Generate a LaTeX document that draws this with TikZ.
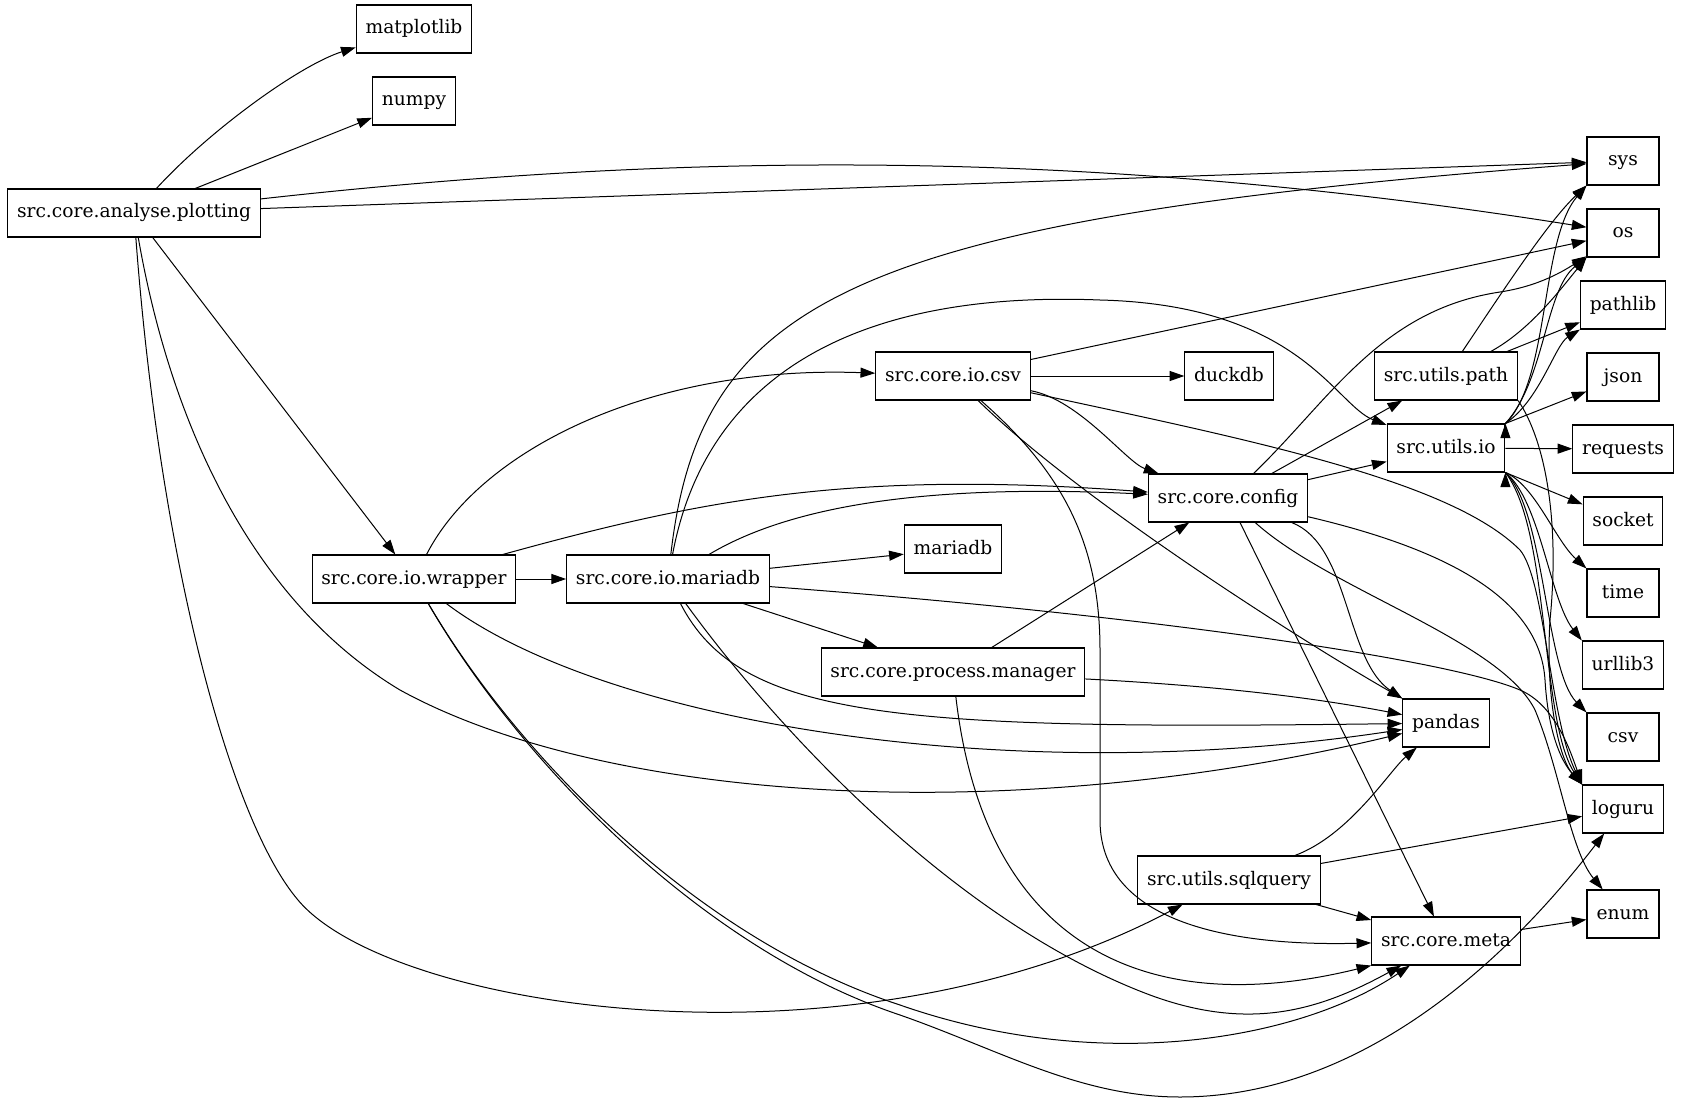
\documentclass[tikz,border=0pt]{standalone}
\usepackage{fontspec}
\setmainfont{DejaVu Serif}
\usetikzlibrary{arrows.meta}

\tikzset{
  mod/.style={draw, rectangle, line width=0.8pt, minimum width=54pt, minimum height=36pt,
    inner xsep=7pt, text height=10.5pt, text depth=3pt, font=\fontsize{14}{17}\selectfont},
  dep/.style={draw, line width=0.75pt, -{Triangle[length=11pt,width=7.5pt]}},
}

\begin{document}
\begin{tikzpicture}[x=0.75pt,y=-0.75pt]
    \fill[white] (0,0) rectangle (1681,1102);
    \useasboundingbox (0,0) rectangle (1681,1102);

    \node[mod] (plotting) at (134,213) {src.core.analyse.plotting};
    \node[mod] (matplotlib) at (414,29) {matplotlib};
    \node[mod] (numpy) at (414,101) {numpy};
    \node[mod] (wrapper) at (414,579) {src.core.io.wrapper};
    \node[mod] (iomariadb) at (668,579) {src.core.io.mariadb};
    \node[mod] (iocsv) at (953,376) {src.core.io.csv};
    \node[mod] (mariadb) at (953,549) {mariadb};
    \node[mod] (procman) at (953,672) {src.core.process.manager};
    \node[mod] (config) at (1228,498) {src.core.config};
    \node[mod] (duckdb) at (1229,376) {duckdb};
    \node[mod] (sqlquery) at (1229,880) {src.utils.sqlquery};
    \node[mod] (utilspath) at (1446,376) {src.utils.path};
    \node[mod] (utilsio) at (1446,448) {src.utils.io};
    \node[mod] (pandas) at (1446,723) {pandas};
    \node[mod] (meta) at (1446,941) {src.core.meta};
    \node[mod] (sys) at (1623,161) {sys};
    \node[mod] (os) at (1623,233) {os};
    \node[mod] (pathlib) at (1623,305) {pathlib};
    \node[mod] (json) at (1623,377) {json};
    \node[mod] (requests) at (1623,449) {requests};
    \node[mod] (socket) at (1623,521) {socket};
    \node[mod] (time) at (1623,593) {time};
    \node[mod] (urllib3) at (1623,665) {urllib3};
    \node[mod] (csvmod) at (1623,737) {csv};
    \node[mod] (loguru) at (1623,809) {loguru};
    \node[mod] (enum) at (1623,914) {enum};

    % plotting
    \path [dep] (plotting) .. controls (210,130) and (300,65) .. (matplotlib);
    \path [dep] (plotting) edge (numpy);
    \path [dep] (plotting) edge (sys);
    \path [dep] (plotting) .. controls (700,150) and (1100,150) .. (os);
    \path [dep] (plotting) edge (wrapper);
    \path [dep] (plotting) .. controls (170,420) and (250,600) .. (400,690) .. controls (600,800) and (1000,830) .. (pandas);
    \path [dep] (plotting) .. controls (160,560) and (230,820) .. (298,900) .. controls (390,1010) and (850,1080) .. (sqlquery);

    % wrapper
    \path [dep] (wrapper) edge (iomariadb);
    \path [dep] (wrapper) .. controls (480,450) and (650,365) .. (iocsv);
    \path [dep] (wrapper) .. controls (700,500) and (850,470) .. (config);
    \path [dep] (wrapper) .. controls (600,720) and (1000,790) .. (pandas);
    \path [dep] (wrapper) .. controls (520,760) and (700,940) .. (900,1005) .. controls (1100,1075) and (1300,1040) .. (meta);
    \path [dep] (wrapper) .. controls (522,765) and (705,950) .. (900,1015) .. controls (1000,1050) and (1080,1097) .. (1180,1097) .. controls (1380,1097) and (1530,930) .. (loguru);

    % io.mariadb
    \path [dep] (iomariadb) edge (mariadb);
    \path [dep] (iomariadb) edge (procman);
    \path [dep] (iomariadb) .. controls (800,500) and (950,485) .. (config);
    \path [dep] (iomariadb) .. controls (700,300) and (850,220) .. (sys);
    \path [dep] (iomariadb) .. controls (705,380) and (850,290) .. (1100,300) .. controls (1300,305) and (1335,405) .. (utilsio);
    \path [dep] (iomariadb) .. controls (1150,615) and (1450,660) .. (1520,690) .. controls (1555,705) and (1570,750) .. (loguru.north west);
    \path [dep] (iomariadb) .. controls (740,720) and (900,730) .. (pandas);
    \path [dep] (iomariadb) .. controls (770,720) and (950,920) .. (1150,995) .. controls (1250,1032) and (1320,1010) .. (meta);

    % io.csv
    \path [dep] (iocsv) edge (duckdb);
    \path [dep] (iocsv) edge (os);
    \path [dep] (iocsv) .. controls (1080,400) and (1126,462) .. (config);
    \path [dep] (iocsv) .. controls (1250,440) and (1450,480) .. (1520,550) .. controls (1545,580) and (1550,720) .. (loguru.north west);
    \path [dep] (iocsv) .. controls (1080,500) and (1300,640) .. (pandas.north west);
    \path [dep] (iocsv) .. controls (1060,470) and (1100,540) .. (1100,650) -- (1100,820) .. controls (1100,930) and (1250,946) .. (meta);

    % config
    \path [dep] (config) edge (utilspath);
    \path [dep] (config) edge (utilsio);
    \path [dep] (config) .. controls (1330,400) and (1380,310) .. (1500,292) .. controls (1540,286) and (1565,270) .. (os);
    \path [dep] (config) .. controls (1350,545) and (1345,660) .. (pandas.north west);
    \path [dep] (config) edge (meta);
    \path [dep] (config) .. controls (1450,550) and (1540,600) .. (1545,680) .. controls (1548,730) and (1560,760) .. (loguru.north west);
    \path [dep] (config) .. controls (1330,590) and (1500,640) .. (1535,710) .. controls (1560,770) and (1570,850) .. (enum);

    % process.manager
    \path [dep] (procman) edge (config);
    \path [dep] (procman) .. controls (1200,685) and (1300,695) .. (pandas);
    \path [dep] (procman) .. controls (985,950) and (1150,1020) .. (meta.south west);

    % utils.path
    \path [dep] (utilspath) .. controls (1510,280) and (1550,220) .. (sys.south west);
    \path [dep] (utilspath) .. controls (1530,330) and (1560,290) .. (os.south west);
    \path [dep] (utilspath) edge (pathlib);
    \path [dep] (utilspath.south east) .. controls (1545,440) and (1560,520) .. (1550,620) .. controls (1545,700) and (1560,760) .. (loguru.north west);

    % utils.io
    \path [dep] (utilsio.north east) .. controls (1550,380) and (1540,240) .. (sys.south west);
    \path [dep] (utilsio.north east) .. controls (1545,380) and (1545,290) .. (os.south west);
    \path [dep] (utilsio.north east) .. controls (1540,400) and (1555,345) .. (pathlib.south west);
    \path [dep] (utilsio.north east) edge (json);
    \path [dep] (utilsio) edge (requests);
    \path [dep] (utilsio.south east) edge (socket);
    \path [dep] (utilsio.south east) .. controls (1535,485) and (1555,540) .. (time.north west);
    \path [dep] (utilsio.south east) .. controls (1540,500) and (1550,600) .. (urllib3.north west);
    \path [dep] (utilsio.south east) .. controls (1545,510) and (1545,670) .. (csvmod.north west);
    \path [dep] (utilsio.south east) .. controls (1550,530) and (1540,720) .. (loguru.north west);

    % utils.sqlquery, meta
    \path [dep] (sqlquery) .. controls (1350,835) and (1390,770) .. (pandas);
    \path [dep] (sqlquery) edge (loguru);
    \path [dep] (sqlquery) edge (meta);
    \path [dep] (meta) edge (enum);
\end{tikzpicture}
\end{document}
